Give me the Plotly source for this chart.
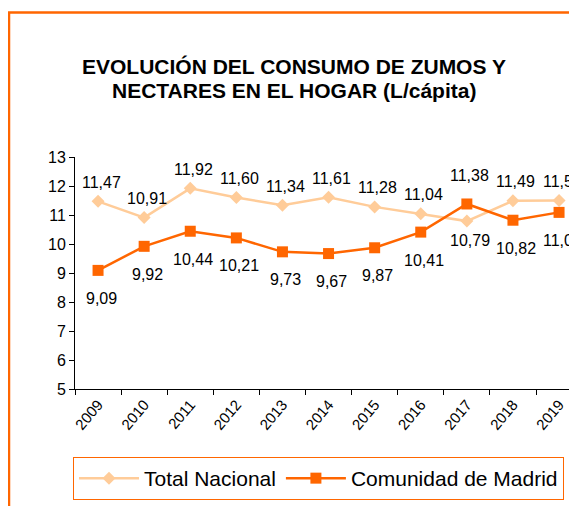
import plotly.graph_objects as go

years = ["2009", "2010", "2011", "2012", "2013", "2014", "2015", "2016", "2017", "2018", "2019"]
total_nacional = [11.47, 10.91, 11.92, 11.60, 11.34, 11.61, 11.28, 11.04, 10.79, 11.49, 11.50]
comunidad_madrid = [9.09, 9.92, 10.44, 10.21, 9.73, 9.67, 9.87, 10.41, 11.38, 10.82, 11.09]
# label placement: +1 above the point, -1 below
total_label_side = [1, 1, 1, 1, 1, 1, 1, 1, -1, 1, 1]
madrid_label_side = [-1, -1, -1, -1, -1, -1, -1, -1, 1, -1, -1]

FONT = "Arial, Liberation Sans, sans-serif"
LIGHT = "#FFCC99"
DARK = "#FF6600"

OFF = 8  # page body margin
W, H = 577 - OFF, 506 - OFF
L = 75 - OFF
T = 157 - OFF
B = H - (389 - OFF)
plot_w = W - L
cat_w = 46.1
x_max = -0.5 + plot_w / cat_w
plot_h = H - T - B

def px_x(p):
    return (p - OFF - L) / plot_w

def px_y(p):
    return (H - B - (p - OFF)) / plot_h

fig = go.Figure()
fig.add_trace(go.Scatter(
    x=years, y=total_nacional, name="Total Nacional", mode="lines+markers",
    line=dict(color=LIGHT, width=2.5),
    marker=dict(symbol="diamond", size=10, color=LIGHT),
    cliponaxis=False,
))
fig.add_trace(go.Scatter(
    x=years, y=comunidad_madrid, name="Comunidad de Madrid", mode="lines+markers",
    line=dict(color=DARK, width=2.5),
    marker=dict(symbol="square", size=11, color=DARK),
    cliponaxis=False,
))

def fmt(v):
    return f"{v:.2f}".replace(".", ",")

for i, (v, s) in enumerate(zip(total_nacional, total_label_side)):
    fig.add_annotation(xref="x", yref="y", x=i, y=v, text=fmt(v), showarrow=False, xshift=3,
                       yshift=19 * s, font=dict(family=FONT, size=16, color="#000000"))
for i, (v, s) in enumerate(zip(comunidad_madrid, madrid_label_side)):
    fig.add_annotation(xref="x", yref="y", x=i, y=v, text=fmt(v), showarrow=False, xshift=3,
                       yshift=28 * s, font=dict(family=FONT, size=16, color="#000000"))

title_lines = ["EVOLUCIÓN DEL CONSUMO DE ZUMOS Y", "NECTARES EN EL HOGAR (L/cápita)"]
for line, yp in zip(title_lines, [67, 90]):
    fig.add_annotation(xref="paper", yref="paper", x=px_x(294), y=px_y(yp),
                       xanchor="center", yanchor="middle", text=f"<b>{line}</b>",
                       showarrow=False, font=dict(family=FONT, size=21, color="#000000"))

fig.update_layout(
    width=W, height=H,
    margin=dict(l=L, r=0, t=T, b=B, pad=0),
    paper_bgcolor="white", plot_bgcolor="white",
    showlegend=True,
    legend=dict(
        orientation="h", x=px_x(73), y=px_y(457), xanchor="left", yanchor="top",
        bordercolor=DARK, borderwidth=1, bgcolor="white",
        font=dict(family=FONT, size=21, color="#000000"),
        itemwidth=60,
    ),
    shapes=[dict(type="rect", xref="paper", yref="paper",
                 x0=px_x(9), x1=px_x(620), y0=px_y(560), y1=px_y(12.5),
                 line=dict(color=DARK, width=2.5), fillcolor="rgba(0,0,0,0)", layer="below")],
)
fig.update_xaxes(
    type="category", range=[-0.5, x_max], showline=True, linecolor="#000000", linewidth=1,
    ticks="outside", ticklen=5, tickcolor="#000000", tickson="boundaries",
    tickangle=-50, tickfont=dict(family=FONT, size=15, color="#000000"),
    showgrid=False, zeroline=False, fixedrange=True,
)
fig.update_yaxes(
    range=[5, 13], dtick=1, tick0=5, showline=True, linecolor="#000000", linewidth=1,
    ticks="outside", ticklen=5, tickcolor="#000000",
    tickfont=dict(family=FONT, size=16, color="#000000"),
    showgrid=False, zeroline=False, fixedrange=True,
)
fig.write_html("out.html", config={"displayModeBar": False})
